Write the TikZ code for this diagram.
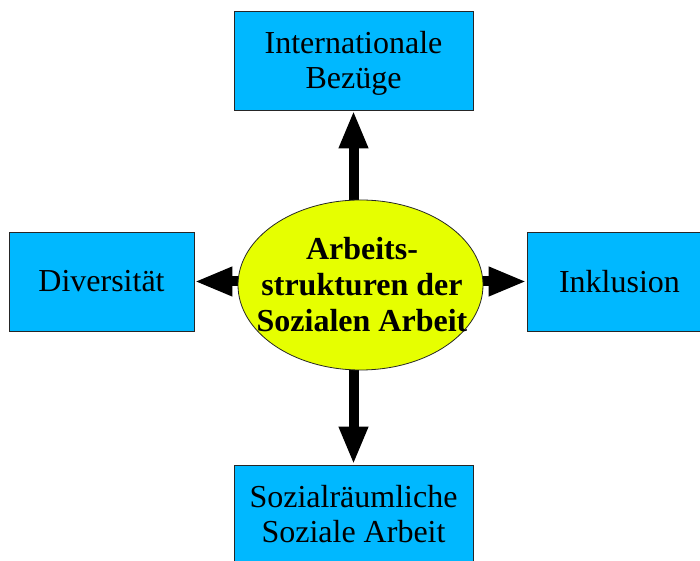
\documentclass[tikz,border=0pt]{standalone}
\usepackage{fontspec}
\setmainfont{Liberation Serif}
\usetikzlibrary{arrows.meta,backgrounds,shapes.geometric}
\definecolor{boxblue}{HTML}{00B8FF}
\definecolor{ellyellow}{HTML}{E6FF00}
\begin{document}
\begin{tikzpicture}[x=1bp,y=1bp,
  topicbox/.style={draw=black!85,line width=0.8bp,fill=boxblue,rectangle,
    inner sep=0pt,align=center,font=\fontsize{32bp}{35bp}\selectfont},
  centerell/.style={draw=black!85,line width=0.8bp,fill=ellyellow,ellipse,
    inner sep=0pt},
  elltextstyle/.style={align=center,font=\fontsize{32bp}{36bp}\selectfont\bfseries},
  bigarrow/.style={line width=10bp,-{Triangle[length=38bp,width=27bp]}}]
\useasboundingbox (0,0) rectangle (700,561);
\node[topicbox,minimum width=239bp,minimum height=99bp,text depth=3bp] (top) at (353.5,500.5) {\strut Internationale\\Bezüge};
\node[topicbox,minimum width=185bp,minimum height=99bp] (left) at (101.5,279.5) {Diversität};
\node[topicbox,minimum width=185bp,minimum height=99bp] (right) at (619.5,279.5) {Inklusion};
\node[topicbox,minimum width=239bp,minimum height=99bp] (bottom) at (353.5,46.5) {Sozialräumliche\\Soziale Arbeit};
\node[centerell,minimum width=245bp,minimum height=170bp] (ell) at (360.5,276) {};
\node[elltextstyle] (elltext) at (362,276) {Arbeits-\\strukturen der\\Sozialen Arbeit};
\begin{scope}[on background layer]
\draw[bigarrow] (top.south |- ell.center) -- (top.south);
\draw[bigarrow] (bottom.north |- ell.center) -- (bottom.north);
\draw[bigarrow] (left.east -| ell.center) -- (left.east);
\draw[bigarrow] (right.west -| ell.center) -- (right.west);
\end{scope}
\end{tikzpicture}
\end{document}
